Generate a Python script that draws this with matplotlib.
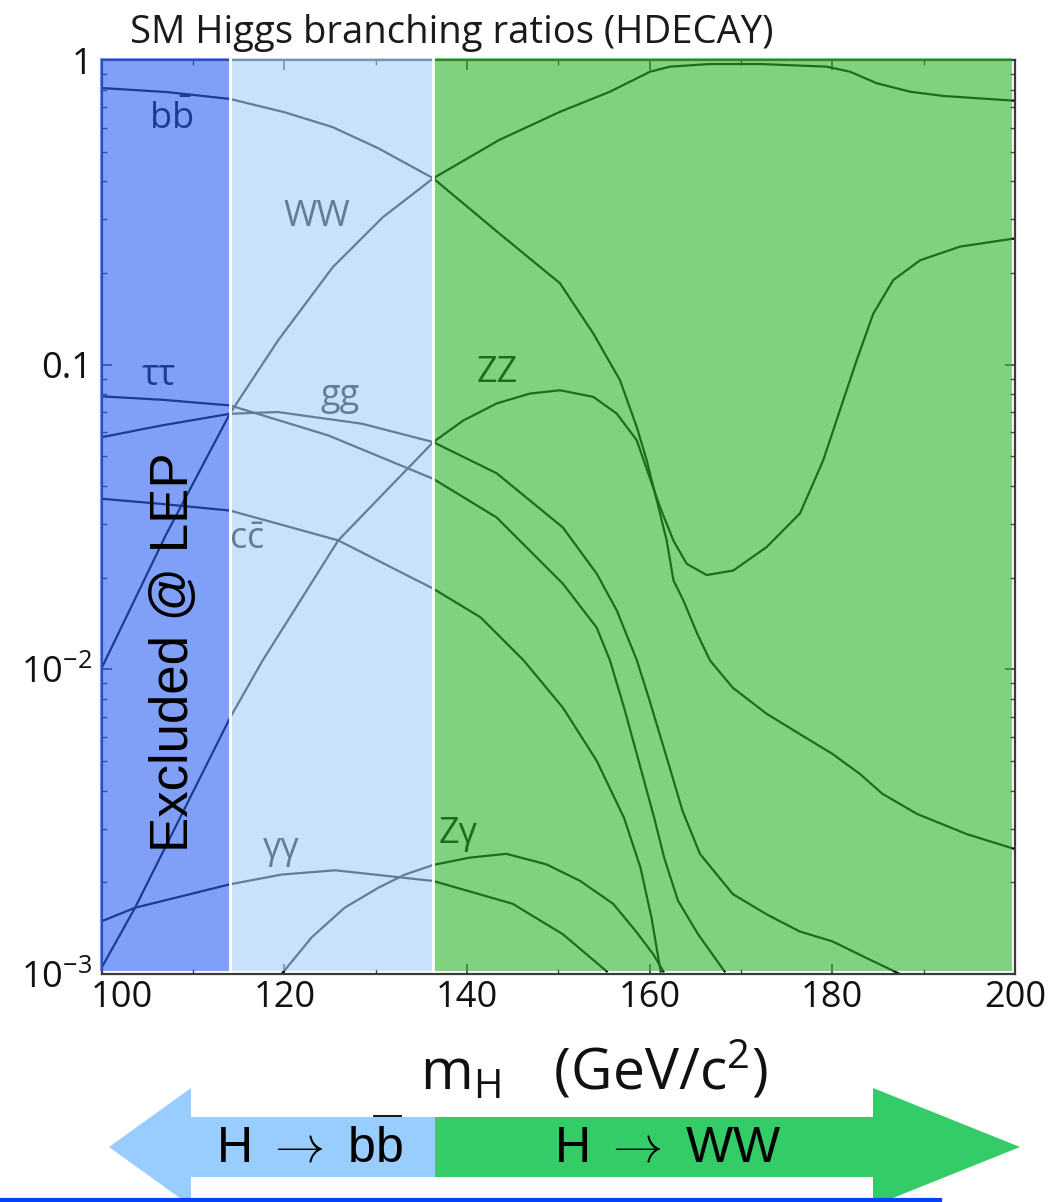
import matplotlib
matplotlib.use("Agg")
import matplotlib.pyplot as plt
from matplotlib.patches import Rectangle, Polygon
from matplotlib.lines import Line2D
from matplotlib.ticker import FixedLocator, MultipleLocator, LogLocator, NullFormatter

plt.rcParams['font.family'] = ['Open Sans', 'DejaVu Sans']
plt.rcParams['mathtext.fontset'] = 'custom'
plt.rcParams['mathtext.rm'] = 'Open Sans'
plt.rcParams['mathtext.it'] = 'Open Sans:italic'
plt.rcParams['mathtext.bf'] = 'Open Sans:bold'

# ---------------- data ----------------
mass_bb = [100, 107.1, 114.05, 120, 125.3, 130.3, 136.3, 143.5, 150.18, 153.83, 156.75,
           158.58, 159.67, 160.77, 161.86, 162.6, 163.7, 165.2, 166.6, 169.1, 172.8,
           176.4, 180.0, 183.0, 185.5, 189.3, 194.7, 200]
br_bb = [0.809, 0.785, 0.745, 0.674, 0.602, 0.513, 0.409, 0.270, 0.185, 0.1265, 0.0889,
         0.0625, 0.0486, 0.0359, 0.0265, 0.0196, 0.0168, 0.0131, 0.0107, 0.0087, 0.00715,
         0.00614, 0.00528, 0.00454, 0.0039, 0.00335, 0.00288, 0.00257]

mass_ww = [100, 107.0, 114.05, 119.3, 125.3, 130.8, 136.3, 143.5, 150.18, 155.65, 160.03,
           162.22, 166.6, 172.1, 179.4, 181.95, 184.86, 188.5, 192.15, 200]
br_ww = [0.0101, 0.0275, 0.0692, 0.120, 0.209, 0.305, 0.409, 0.546, 0.676, 0.787, 0.915,
         0.951, 0.970, 0.970, 0.951, 0.915, 0.839, 0.787, 0.762, 0.735]

mass_zz = [100, 103.65, 114.05, 117.6, 125.9, 136.3, 139.6, 143.25, 146.9, 150.18, 153.83,
           156.39, 158.58, 159.85, 161.13, 162.59, 164.05, 166.24, 169.15, 172.81, 176.46,
           179.01, 180.83, 182.67, 184.48, 186.67, 189.6, 193.97, 200]
br_zz = [0.00105, 0.00165, 0.00693, 0.01067, 0.0265, 0.0557, 0.0656, 0.0746, 0.0804,
         0.0824, 0.0784, 0.0691, 0.0565, 0.0439, 0.0341, 0.0265, 0.0222, 0.0204, 0.0211,
         0.0252, 0.0325, 0.0486, 0.0709, 0.1035, 0.147, 0.1895, 0.220, 0.244, 0.2597]

mass_gg = [100, 106.6, 114.05, 119.3, 128.5, 136.3, 143.25, 150.5, 154.2, 156.4, 158.6,
           160.0, 162.2, 163.6, 165.5, 169.1, 172.8, 176.4, 180.0, 183.7, 187.4]
br_gg = [0.0578, 0.0632, 0.069, 0.0699, 0.064, 0.0557, 0.044, 0.0292, 0.0206, 0.0156,
         0.0107, 0.00788, 0.00475, 0.00343, 0.00248, 0.00183, 0.00157, 0.00138, 0.00128,
         0.00113, 0.00100]

mass_tautau = [100, 106.6, 114.05, 124.8, 136.3, 143.25, 150.5, 154.2, 155.65, 157.2,
               159.0, 160.5, 161.6, 163.1, 165.3, 168.2]
br_tautau = [0.0787, 0.0767, 0.0735, 0.0586, 0.0422, 0.0315, 0.0191, 0.0137, 0.0107,
             0.00748, 0.00475, 0.00325, 0.0024, 0.00174, 0.00135, 0.00102]

mass_cc = [100, 106.6, 114.05, 125.9, 136.3, 141.5, 146.2, 150.5, 154.2, 157.2, 159.0,
           160.2, 161.2]
br_cc = [0.0363, 0.0349, 0.0332, 0.0265, 0.0184, 0.0148, 0.0107, 0.00748, 0.00501,
         0.00325, 0.00223, 0.00153, 0.00102]

mass_gamgam = [100, 103.65, 114.05, 119.7, 125.55, 136.3, 145.0, 150.5, 155.3]
br_gamgam = [0.00149, 0.00165, 0.00197, 0.00212, 0.00219, 0.00202, 0.0017, 0.00135, 0.00102]

mass_zgam = [119.7, 123.0, 126.6, 130.3, 133.2, 136.3, 140.3, 144.3, 148.7, 152.4, 156.0,
             158.5, 160.4, 161.5]
br_zgam = [0.0010, 0.00132, 0.00165, 0.00192, 0.00212, 0.00228, 0.00241, 0.00248, 0.00229,
           0.00202, 0.0017, 0.00138, 0.00116, 0.00102]

curves = [(mass_bb, br_bb), (mass_ww, br_ww), (mass_zz, br_zz), (mass_gg, br_gg),
          (mass_tautau, br_tautau), (mass_cc, br_cc), (mass_gamgam, br_gamgam),
          (mass_zgam, br_zgam)]

channel_labels = [r'$\mathrm{b\bar{b}}$', 'WW', 'ττ', 'gg', r'$\mathrm{c\bar{c}}$', 'ZZ', 'γγ', 'Zγ']
label_mass = [107.6, 123.6, 106.2, 126.1, 115.9, 143.3, 119.7, 139.0]
label_br = [0.64, 0.305, 0.092, 0.079, 0.0265, 0.094, 0.00257, 0.00288]

band_edges = [100, 114.0, 136.25, 199.7]
band_colors = ['#2B61F3', '#A3CFF7', '#2AB72A']

xtick_major = [100, 120, 140, 160, 180, 200]
ytick_vals = [1e-3, 1e-2, 0.1, 1]
ytick_labels = [r'$\mathregular{10^{-3}}$', r'$\mathregular{10^{-2}}$', '0.1', '1']

# ---------------- figure ----------------
W, H = 1049, 1202
fig = plt.figure(figsize=(W / 100, H / 100), dpi=100)
ax = fig.add_axes([101.7 / W, 1 - 974 / H, (1015 - 101.7) / W, (974 - 60) / H])
ax.set_xlim(100, 200)
ax.set_yscale('log')
ax.set_ylim(1e-3, 1)

for m, b in curves:
    ax.plot(m, b, color='#050505', lw=1.6, zorder=2, solid_joinstyle='round')

for t, xm, yb in zip(channel_labels, label_mass, label_br):
    ax.text(xm, yb, t, fontsize=26, ha='center', va='center', color='#050505', zorder=3)

# translucent coloured bands on top of everything
for i in range(3):
    x0 = band_edges[i] - (0.2 if i == 0 else 0)
    ax.add_patch(Rectangle((x0, 1.02e-3), band_edges[i + 1] - x0, 1.012 - 1.02e-3,
                           facecolor=band_colors[i], edgecolor='none', alpha=0.6,
                           zorder=5, clip_on=False))
for xe in band_edges[1:3]:
    ax.plot([xe, xe], [1.02e-3, 1.012], color='white', lw=2.0, zorder=6, clip_on=False)

ax.text(107.9, 0.0114, 'Excluded @ LEP', rotation=90, ha='center', va='center',
        fontsize=38, family=['Liberation Sans', 'DejaVu Sans'], color='black', zorder=7)

# axes styling
for s in ax.spines.values():
    s.set_color('#3a3a3a')
    s.set_linewidth(1.6)
ax.xaxis.set_major_locator(FixedLocator(xtick_major))
ax.xaxis.set_minor_locator(MultipleLocator(10))
ax.set_xticklabels([''] + [str(v) for v in xtick_major[1:]])
ax.annotate(str(xtick_major[0]), xy=(xtick_major[0], 1e-3), xycoords='data',
            xytext=(20, -6), textcoords='offset pixels', ha='center', va='top',
            fontsize=26, color='#111111')
ax.yaxis.set_major_locator(FixedLocator(ytick_vals))
ax.set_yticklabels(ytick_labels)
ax.yaxis.set_minor_locator(LogLocator(base=10, subs=range(2, 10)))
ax.yaxis.set_minor_formatter(NullFormatter())
ax.tick_params(which='both', direction='in', top=True, right=True, colors='#3a3a3a',
               labelcolor='#111111', labelsize=26)
ax.tick_params(which='major', length=7.5, width=1.2)
ax.tick_params(which='minor', length=3.5, width=1.0)
ax.tick_params(axis='x', which='major', pad=4)
ax.tick_params(axis='y', which='major', pad=7)

# title and axis label
fig.text(130 / W, 1 - 43 / H, 'SM Higgs branching ratios (HDECAY)', fontsize=27.5,
         ha='left', va='baseline', color='#1a1a1a')
fig.text(420 / W, 1 - 1090 / H, r'$\mathrm{m_H\ \ \ (GeV/c^2)}$', fontsize=41,
         ha='left', va='baseline', color='#111111')

# decay-mode arrows
def fig_xy(pts):
    return [(x / W, 1 - y / H) for x, y in pts]

left_arrow = [(109, 1147), (191, 1088), (191, 1117), (435, 1117), (435, 1177),
              (191, 1177), (191, 1206)]
right_arrow = [(435, 1117), (873, 1117), (873, 1088), (1020, 1147), (873, 1206),
               (873, 1177), (435, 1177)]
fig.add_artist(Polygon(fig_xy(left_arrow), closed=True, facecolor='#99CCFF',
                       edgecolor='none', transform=fig.transFigure))
fig.add_artist(Polygon(fig_xy(right_arrow), closed=True, facecolor='#33CC66',
                       edgecolor='none', transform=fig.transFigure))
arrow_font = ['Liberation Sans', 'DejaVu Sans']
fig.text(309 / W, 1 - 1148 / H, r'H $\rightarrow$ bb', fontsize=36, ha='center',
         va='center', family=arrow_font, color='black')
fig.add_artist(Line2D([374 / W, 401 / W], [1 - 1116 / H, 1 - 1116 / H], color='black',
                      lw=1.3, transform=fig.transFigure))
fig.text(668 / W, 1 - 1148 / H, r'H $\rightarrow$ WW', fontsize=36, ha='center',
         va='center', family=arrow_font, color='black')
fig.add_artist(Line2D([0, 940 / W], [1 - 1200 / H, 1 - 1200 / H], color='#0540FA',
                      lw=3.0, transform=fig.transFigure))

fig.savefig('out.png', dpi=100)
